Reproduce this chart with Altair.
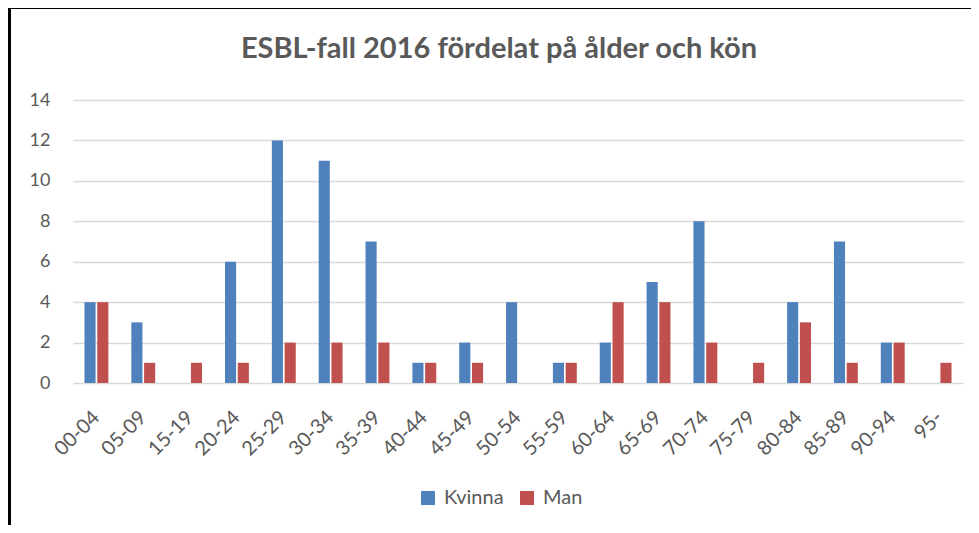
import altair as alt
import pandas as pd

ages = ["00-04", "05-09", "15-19", "20-24", "25-29", "30-34", "35-39", "40-44",
        "45-49", "50-54", "55-59", "60-64", "65-69", "70-74", "75-79", "80-84",
        "85-89", "90-94", "95-"]
kvinna = [4, 3, 0, 6, 12, 11, 7, 1, 2, 4, 1, 2, 5, 8, 0, 4, 7, 2, 0]
man = [4, 1, 1, 1, 2, 2, 2, 1, 1, 0, 1, 4, 4, 2, 1, 3, 1, 2, 1]
series = ["Kvinna", "Man"]
colors = ["#4F81BD", "#C0504D"]
y_ticks = [0, 2, 4, 6, 8, 10, 12, 14]
title_text = "ESBL-fall 2016 fördelat på ålder och kön"

rows = []
for a, k, m in zip(ages, kvinna, man):
    rows.append({"age": a, "kon": "Kvinna", "n": k})
    rows.append({"age": a, "kon": "Man", "n": m})
df = pd.DataFrame(rows)

FONT = "Lato"
GREY = "#595959"

bars = alt.Chart(df).mark_bar().encode(
    x=alt.X("age:N", sort=ages,
            scale=alt.Scale(paddingInner=0.49, paddingOuter=0.245),
            axis=alt.Axis(title=None, labelAngle=-45, labelAlign="right",
                          labelBaseline="middle", labelPadding=31,
                          labelFont=FONT, labelFontSize=20, labelColor=GREY,
                          ticks=False, domain=False, grid=False)),
    xOffset=alt.XOffset("kon:N", sort=series, scale=alt.Scale(paddingInner=0.13)),
    y=alt.Y("n:Q", scale=alt.Scale(domain=[0, 14]),
            axis=alt.Axis(title=None, values=y_ticks, labelFont=FONT,
                          labelFontSize=18, labelColor=GREY, labelPadding=23,
                          ticks=False, domain=False, grid=True,
                          gridColor="#D9D9D9", gridWidth=1.5)),
    color=alt.Color("kon:N", sort=series,
                    scale=alt.Scale(domain=series, range=colors),
                    legend=alt.Legend(title=None, orient="none", direction="horizontal",
                                      legendX=345, legendY=388,
                                      symbolType="square", symbolSize=196,
                                      symbolStrokeWidth=0, labelFont=FONT,
                                      labelFontSize=20, labelColor=GREY,
                                      labelOffset=6, columnPadding=13)),
)

frame_df = pd.DataFrame({"a": [0]})
left_border = alt.Chart(frame_df).mark_rule(color="black", strokeWidth=3).encode(
    x=alt.value(-63.5), y=alt.value(-94), y2=alt.value(460))
top_border = alt.Chart(frame_df).mark_rule(color="black", strokeWidth=3).encode(
    x=alt.value(-65), x2=alt.value(910), y=alt.value(-92.5))
title = alt.Chart(pd.DataFrame({"t": [title_text]})).mark_text(
    font=FONT, fontSize=29, fontWeight="bold", color=GREY,
    align="center", baseline="alphabetic").encode(
    text="t:N", x=alt.value(426), y=alt.value(-42))

chart = alt.layer(bars, left_border, top_border, title).properties(
    width=890, height=283,
    autosize=alt.AutoSizeParams(type="none"),
    padding={"left": 65, "top": 92, "right": 8, "bottom": 142},
).configure_view(stroke=None)

chart.save("out.html", embed_options={"renderer": "svg", "actions": False})
